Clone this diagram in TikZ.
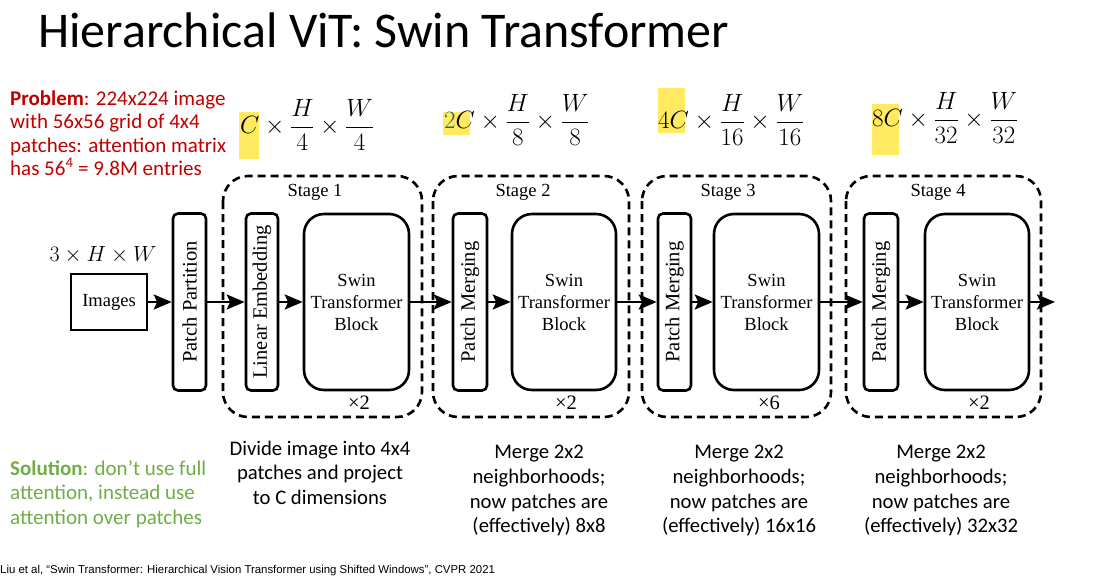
\documentclass[tikz,border=0pt]{standalone}
\usepackage{fix-cm}
\usepackage{graphicx}
\usepackage{fontspec}
\setmainfont{Carlito}
\newfontfamily\diagfont{Liberation Serif}
\newfontfamily\citefont{Liberation Sans}
\usetikzlibrary{arrows.meta}
\definecolor{probred}{RGB}{192,0,0}
\definecolor{solgreen}{RGB}{112,173,71}
\definecolor{hilite}{RGB}{255,234,98}
\definecolor{coefteal}{RGB}{30,110,90}

\begin{document}
\begin{tikzpicture}[x=1pt,y=-1pt,
  thinbox/.style={draw,line width=2.6pt,rounded corners=5pt,minimum width=33pt,
    minimum height=177pt,inner sep=0pt,font=\diagfont\fontsize{20.5}{22}\selectfont},
  swinbox/.style={draw,line width=2.6pt,rounded corners=20pt,minimum width=105pt,
    minimum height=176pt,inner sep=0pt,align=center,font=\diagfont\fontsize{18.5}{22}\selectfont},
  imgbox/.style={draw,line width=2.6pt,minimum width=76pt,minimum height=56pt,
    inner sep=0pt,font=\diagfont\fontsize{18.5}{22}\selectfont},
  stagebox/.style={draw,line width=2.6pt,dash pattern=on 8pt off 5pt,rounded corners=25pt},
  difflabel/.style={font=\diagfont\fontsize{18.5}{22}\selectfont,inner sep=0pt},
  replabel/.style={font=\diagfont\fontsize{20.5}{22}\selectfont,inner sep=0pt},
  flow/.style={line width=2.5pt,-{Stealth[length=18pt,width=15pt,inset=3.5pt]}},
  mathlbl/.style={anchor=base west,inner sep=0pt,font=\fontsize{25}{30}\selectfont},
  redline/.style={anchor=base west,inner sep=0pt,text=probred,font=\fontsize{21}{24}\selectfont},
  greenline/.style={anchor=base west,inner sep=0pt,text=solgreen,font=\fontsize{21}{24}\selectfont},
  capline/.style={anchor=base,inner sep=0pt,font=\fontsize{20.7}{24}\selectfont}
]
\useasboundingbox (0,0) rectangle (1108,576);

% title
\node[anchor=base west,inner sep=0pt,font=\fontsize{50}{56}\selectfont] (title) at (38,47)
  {Hierarchical ViT: Swin Transformer};

% problem statement
\node[redline] (prob1) at (10,105) {\textbf{Problem}: 224x224 image};
\node[redline] (prob2) at (10,128.5) {with 56x56 grid of 4x4};
\node[redline] (prob3) at (10,152) {patches: attention matrix};
\node[redline] (prob4) at (10,175.5) {has 56\textsuperscript{4} = 9.8M entries};

% solution statement
\node[greenline] (sol1) at (10,475) {\textbf{Solution}: don’t use full};
\node[greenline] (sol2) at (10,499.5) {attention, instead use};
\node[greenline] (sol3) at (10,524) {attention over patches};

% highlighted channel counts
\fill[hilite] (239,112) rectangle (259,159);
\fill[hilite] (443,112) rectangle (470,135);
\fill[hilite] (658,88) rectangle (685,133);
\fill[hilite] (872,104) rectangle (899,155);

% feature map sizes
\node[mathlbl] (dim1) at (240,133.3) {$C\times\displaystyle\frac{H}{4}\times\frac{W}{4}$};
\node[mathlbl] (dim2) at (444,128.5) {$\textcolor{coefteal}{2}C\times\displaystyle\frac{H}{8}\times\frac{W}{8}$};
\node[mathlbl] (dim3) at (658,128.5) {$4C\times\displaystyle\frac{H}{16}\times\frac{W}{16}$};
\node[mathlbl] (dim4) at (872,126.5) {$8C\times\displaystyle\frac{H}{32}\times\frac{W}{32}$};

% input
\node[inner sep=0pt,font=\fontsize{22}{26}\selectfont] (insize) at (103,255) {$3\times H\times W$};
\node[imgbox] (img) at (109,302) {Images};

% stage frames
\draw[stagebox] (223,176) rectangle (422,417);
\draw[stagebox] (433,176) rectangle (629,417);
\draw[stagebox] (642,176) rectangle (831,417);
\draw[stagebox] (846,176) rectangle (1041,417);
\node[difflabel] (st1) at (315,192) {Stage 1};
\node[difflabel] (st2) at (523,192) {Stage 2};
\node[difflabel] (st3) at (728,192) {Stage 3};
\node[difflabel] (st4) at (938,192) {Stage 4};
\node[replabel] (rep1) at (359,403) {×2};
\node[replabel] (rep2) at (566,403) {×2};
\node[replabel] (rep3) at (769,403) {×6};
\node[replabel] (rep4) at (979,403) {×2};

% blocks
\node[thinbox] (pp) at (189.5,302) {\rotatebox{90}{Patch Partition}};
\node[thinbox,minimum width=32pt] (le) at (262,302) {\rotatebox{90}{Linear Embedding}};
\node[swinbox] (sw1) at (356.5,302) {Swin\\Transformer\\Block};
\node[thinbox,minimum width=34pt] (pm2) at (470,302) {\rotatebox{90}{Patch Merging}};
\node[swinbox,minimum width=104pt] (sw2) at (564,302) {Swin\\Transformer\\Block};
\node[thinbox] (pm3) at (674.5,302) {\rotatebox{90}{Patch Merging}};
\node[swinbox] (sw3) at (766.5,302) {Swin\\Transformer\\Block};
\node[thinbox,minimum width=34pt] (pm4) at (881,302) {\rotatebox{90}{Patch Merging}};
\node[swinbox,minimum width=104pt] (sw4) at (977,302) {Swin\\Transformer\\Block};
\coordinate (out) at (1055,302);

% data flow
\draw[flow] (img) -- (pp);
\draw[flow] (pp) -- (le);
\draw[flow] (le) -- (sw1);
\draw[flow] (sw1) -- (pm2);
\draw[flow] (pm2) -- (sw2);
\draw[flow] (sw2) -- (pm3);
\draw[flow] (pm3) -- (sw3);
\draw[flow] (sw3) -- (pm4);
\draw[flow] (pm4) -- (sw4);
\draw[flow] (sw4) -- (out);

% stage captions
\foreach \t [count=\i] in {{Divide image into 4x4},{patches and project},{to C dimensions}}
  \node[capline] (capa\i) at (320,{455+24.7*(\i-1)}) {\t};
\foreach \t [count=\i] in {{Merge 2x2},{neighborhoods;},{now patches are},{(effectively) 8x8}}
  \node[capline] (capb\i) at (539,{458.5+24.8*(\i-1)}) {\t};
\foreach \t [count=\i] in {{Merge 2x2},{neighborhoods;},{now patches are},{(effectively) 16x16}}
  \node[capline] (capc\i) at (739,{458.5+24.8*(\i-1)}) {\t};
\foreach \t [count=\i] in {{Merge 2x2},{neighborhoods;},{now patches are},{(effectively) 32x32}}
  \node[capline] (capd\i) at (941,{458.5+24.8*(\i-1)}) {\t};

% reference
\node[anchor=base west,inner sep=0pt,font=\citefont\fontsize{11.4}{13}\selectfont] (cite) at (0,573.5)
  {Liu et al, “Swin Transformer: Hierarchical Vision Transformer using Shifted Windows”, CVPR 2021};
\end{tikzpicture}
\end{document}
